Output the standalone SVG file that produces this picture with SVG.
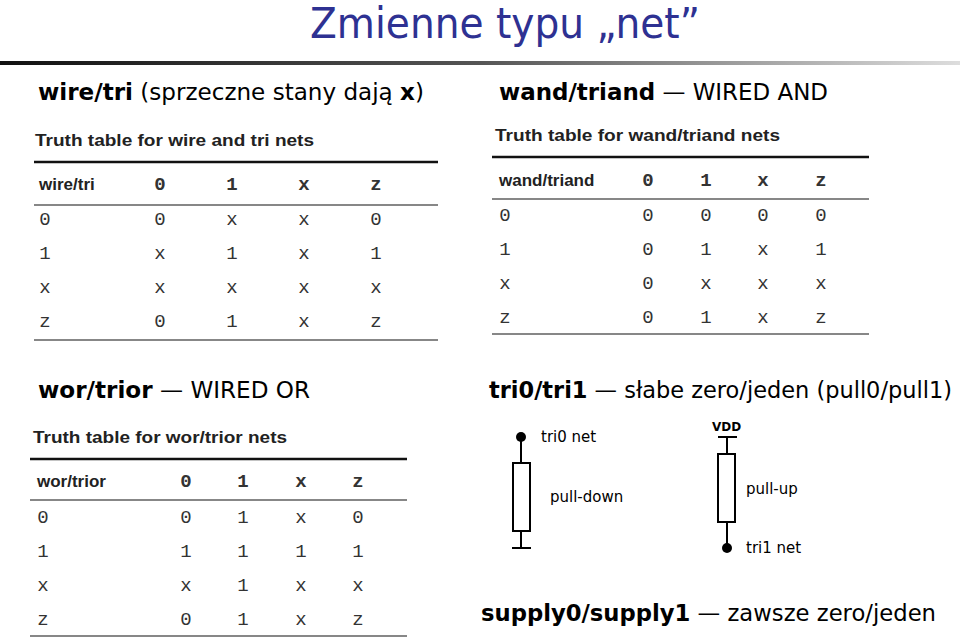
<svg xmlns="http://www.w3.org/2000/svg" width="960" height="637" viewBox="0 0 960 637">
<style>
.h{font-family:"DejaVu Sans",sans-serif;font-size:23px;fill:#000}
.b{font-weight:bold}
.tt{font-family:"Liberation Sans",Arial,sans-serif;font-size:17px;font-weight:bold;fill:#222}
.th{font-family:"Liberation Sans",Arial,sans-serif;font-size:17px;font-weight:bold;fill:#222}
.m{font-family:"Liberation Mono","Courier New",monospace;font-size:19px;fill:#333;text-anchor:middle}
.mb{font-weight:bold}
.ln{stroke:#111;stroke-width:1.2}
.tk{stroke:#111;stroke-width:2.5}
.s{font-family:"DejaVu Sans",sans-serif;font-size:15px;fill:#000}
.w{stroke:#000;stroke-width:2;fill:none}
</style>
<defs>
<linearGradient id="g" x1="0" x2="1"><stop offset="0" stop-color="#111"/><stop offset="0.5" stop-color="#555"/><stop offset="1" stop-color="#ddd"/></linearGradient>
</defs>
<rect width="960" height="637" fill="#fff"/>
<text x="310" y="38" font-family="DejaVu Sans,sans-serif" font-size="42" fill="#2e3192" textLength="390" lengthAdjust="spacingAndGlyphs">Zmienne typu „net”</text>
<rect x="0" y="61" width="960" height="4" fill="url(#g)"/>

<text class="h" x="38" y="100" textLength="386" lengthAdjust="spacingAndGlyphs"><tspan class="b">wire/tri</tspan> (sprzeczne stany dają <tspan class="b">x</tspan>)</text>
<text class="h" x="499" y="100" textLength="329" lengthAdjust="spacingAndGlyphs"><tspan class="b">wand/triand</tspan> — WIRED AND</text>
<text class="h" x="38" y="398" textLength="272" lengthAdjust="spacingAndGlyphs"><tspan class="b">wor/trior</tspan> — WIRED OR</text>
<text class="h" x="489" y="398" textLength="463" lengthAdjust="spacingAndGlyphs"><tspan class="b">tri0/tri1</tspan> — słabe zero/jeden (pull0/pull1)</text>
<text class="h" x="481" y="621" textLength="455" lengthAdjust="spacingAndGlyphs"><tspan class="b">supply0/supply1</tspan> — zawsze zero/jeden</text>

<g id="table1">
<text class="tt" x="35" y="146" textLength="279" lengthAdjust="spacingAndGlyphs">Truth table for wire and tri nets</text>
<line class="tk" x1="34" y1="162" x2="438" y2="162"/>
<text class="th" x="39" y="190">wire/tri</text>
<g class="m mb"><text x="160" y="190">0</text><text x="232" y="190">1</text><text x="304" y="190">x</text><text x="376" y="190">z</text></g>
<line class="ln" x1="34" y1="205" x2="438" y2="205"/>
<g class="m">
<text x="45" y="225">0</text><text x="160" y="225">0</text><text x="232" y="225">x</text><text x="304" y="225">x</text><text x="376" y="225">0</text>
<text x="45" y="259">1</text><text x="160" y="259">x</text><text x="232" y="259">1</text><text x="304" y="259">x</text><text x="376" y="259">1</text>
<text x="45" y="293">x</text><text x="160" y="293">x</text><text x="232" y="293">x</text><text x="304" y="293">x</text><text x="376" y="293">x</text>
<text x="45" y="327">z</text><text x="160" y="327">0</text><text x="232" y="327">1</text><text x="304" y="327">x</text><text x="376" y="327">z</text>
</g>
<line class="ln" x1="34" y1="340" x2="438" y2="340"/>
</g>

<g id="table2">
<text class="tt" x="495" y="141" textLength="285" lengthAdjust="spacingAndGlyphs">Truth table for wand/triand nets</text>
<line class="tk" x1="492" y1="157" x2="869" y2="157"/>
<text class="th" x="499" y="186">wand/triand</text>
<g class="m mb"><text x="648" y="186">0</text><text x="706" y="186">1</text><text x="763" y="186">x</text><text x="821" y="186">z</text></g>
<line class="ln" x1="492" y1="199" x2="869" y2="199"/>
<g class="m">
<text x="505" y="221">0</text><text x="648" y="221">0</text><text x="706" y="221">0</text><text x="763" y="221">0</text><text x="821" y="221">0</text>
<text x="505" y="255">1</text><text x="648" y="255">0</text><text x="706" y="255">1</text><text x="763" y="255">x</text><text x="821" y="255">1</text>
<text x="505" y="289">x</text><text x="648" y="289">0</text><text x="706" y="289">x</text><text x="763" y="289">x</text><text x="821" y="289">x</text>
<text x="505" y="323">z</text><text x="648" y="323">0</text><text x="706" y="323">1</text><text x="763" y="323">x</text><text x="821" y="323">z</text>
</g>
<line class="ln" x1="492" y1="334" x2="869" y2="334"/>
</g>

<g id="table3">
<text class="tt" x="33" y="443" textLength="254" lengthAdjust="spacingAndGlyphs">Truth table for wor/trior nets</text>
<line class="tk" x1="30" y1="459" x2="407" y2="459"/>
<text class="th" x="37" y="487">wor/trior</text>
<g class="m mb"><text x="186" y="487">0</text><text x="243" y="487">1</text><text x="301" y="487">x</text><text x="358" y="487">z</text></g>
<line class="ln" x1="30" y1="500" x2="407" y2="500"/>
<g class="m">
<text x="43" y="523">0</text><text x="186" y="523">0</text><text x="243" y="523">1</text><text x="301" y="523">x</text><text x="358" y="523">0</text>
<text x="43" y="557">1</text><text x="186" y="557">1</text><text x="243" y="557">1</text><text x="301" y="557">1</text><text x="358" y="557">1</text>
<text x="43" y="591">x</text><text x="186" y="591">x</text><text x="243" y="591">1</text><text x="301" y="591">x</text><text x="358" y="591">x</text>
<text x="43" y="625">z</text><text x="186" y="625">0</text><text x="243" y="625">1</text><text x="301" y="625">x</text><text x="358" y="625">z</text>
</g>
<line class="ln" x1="30" y1="636" x2="407" y2="636"/>
</g>

<g id="pulldown">
<circle cx="521" cy="437" r="5" fill="#000"/>
<path class="w" d="M521 437V463M521 531V548M512 548H531"/>
<rect class="w" x="513" y="463" width="17" height="68"/>
<text class="s" x="541" y="442">tri0 net</text>
<text class="s" x="550" y="502">pull-down</text>
</g>
<g id="pullup">
<text x="712" y="431" font-family="DejaVu Sans,sans-serif" font-size="12" font-weight="bold">VDD</text>
<path class="w" d="M718 437H737M727 437V454M727 522V548"/>
<rect class="w" x="718" y="454" width="17" height="68"/>
<circle cx="727" cy="548" r="5" fill="#000"/>
<text class="s" x="746" y="494">pull-up</text>
<text class="s" x="746" y="553">tri1 net</text>
</g>
</svg>
